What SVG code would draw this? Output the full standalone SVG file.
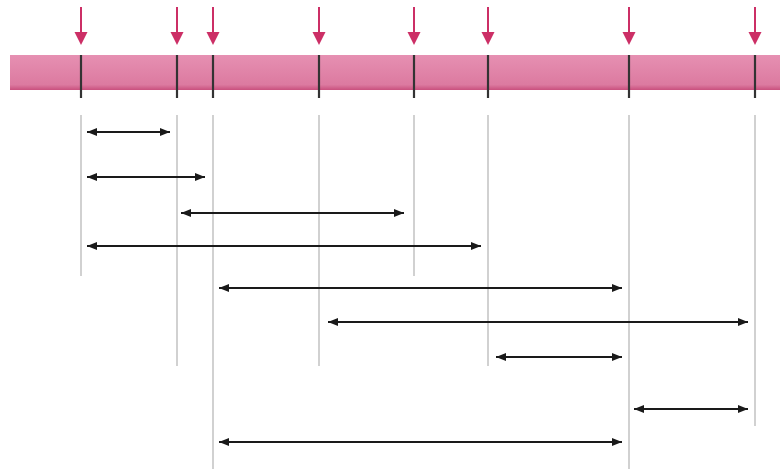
<svg xmlns="http://www.w3.org/2000/svg" width="780" height="471" viewBox="0 0 780 471">
<defs>
<marker id="ah" viewBox="0 0 10 8" refX="10" refY="4" markerWidth="10" markerHeight="8" markerUnits="userSpaceOnUse" orient="auto-start-reverse"><path d="M0,0 L10,4 L0,8 Z" fill="#1a1a1a"/></marker>
<linearGradient id="band" x1="0" y1="0" x2="0" y2="1"><stop offset="0" stop-color="#e690b2"/><stop offset="0.85" stop-color="#dc7aa0"/><stop offset="1" stop-color="#c9507e"/></linearGradient>
</defs>
<style>
.pin{stroke:#cc2f66;stroke-width:2;fill:none}
.pinhead{fill:#cc2f66}
.tick{stroke:#333;stroke-width:2.2}
.guide{stroke:#b8b8b8;stroke-width:1.3}
.span{stroke:#1a1a1a;stroke-width:2;fill:none;marker-start:url(#ah);marker-end:url(#ah)}
</style>
<rect x="0" y="0" width="780" height="471" fill="#fff"/>
<g id="band-group">
<rect id="bar" x="10" y="55" width="770" height="35" fill="url(#band)"/>
</g>
<g id="markers">
<g id="m1"><line class="pin" x1="81" y1="7" x2="81" y2="34"/><path class="pinhead" d="M74.5,32 L87.5,32 L81,45 Z"/><line class="tick" x1="81" y1="55" x2="81" y2="98"/></g>
<g id="m2"><line class="pin" x1="177" y1="7" x2="177" y2="34"/><path class="pinhead" d="M170.5,32 L183.5,32 L177,45 Z"/><line class="tick" x1="177" y1="55" x2="177" y2="98"/></g>
<g id="m3"><line class="pin" x1="213" y1="7" x2="213" y2="34"/><path class="pinhead" d="M206.5,32 L219.5,32 L213,45 Z"/><line class="tick" x1="213" y1="55" x2="213" y2="98"/></g>
<g id="m4"><line class="pin" x1="319" y1="7" x2="319" y2="34"/><path class="pinhead" d="M312.5,32 L325.5,32 L319,45 Z"/><line class="tick" x1="319" y1="55" x2="319" y2="98"/></g>
<g id="m5"><line class="pin" x1="414" y1="7" x2="414" y2="34"/><path class="pinhead" d="M407.5,32 L420.5,32 L414,45 Z"/><line class="tick" x1="414" y1="55" x2="414" y2="98"/></g>
<g id="m6"><line class="pin" x1="488" y1="7" x2="488" y2="34"/><path class="pinhead" d="M481.5,32 L494.5,32 L488,45 Z"/><line class="tick" x1="488" y1="55" x2="488" y2="98"/></g>
<g id="m7"><line class="pin" x1="629" y1="7" x2="629" y2="34"/><path class="pinhead" d="M622.5,32 L635.5,32 L629,45 Z"/><line class="tick" x1="629" y1="55" x2="629" y2="98"/></g>
<g id="m8"><line class="pin" x1="755" y1="7" x2="755" y2="34"/><path class="pinhead" d="M748.5,32 L761.5,32 L755,45 Z"/><line class="tick" x1="755" y1="55" x2="755" y2="98"/></g>
</g>
<g id="guides">
<line class="guide" x1="81" y1="115" x2="81" y2="276"/>
<line class="guide" x1="177" y1="115" x2="177" y2="366"/>
<line class="guide" x1="213" y1="115" x2="213" y2="469"/>
<line class="guide" x1="319" y1="115" x2="319" y2="366"/>
<line class="guide" x1="414" y1="115" x2="414" y2="276"/>
<line class="guide" x1="488" y1="115" x2="488" y2="366"/>
<line class="guide" x1="629" y1="115" x2="629" y2="469"/>
<line class="guide" x1="755" y1="115" x2="755" y2="426"/>
</g>
<g id="connectors">
<line class="span" x1="87" y1="132" x2="170" y2="132"/>
<line class="span" x1="87" y1="177" x2="205" y2="177"/>
<line class="span" x1="181" y1="213" x2="404" y2="213"/>
<line class="span" x1="87" y1="246" x2="481" y2="246"/>
<line class="span" x1="219" y1="288" x2="622" y2="288"/>
<line class="span" x1="328" y1="322" x2="748" y2="322"/>
<line class="span" x1="496" y1="357" x2="622" y2="357"/>
<line class="span" x1="634" y1="409" x2="748" y2="409"/>
<line class="span" x1="219" y1="442" x2="622" y2="442"/>
</g>
</svg>
